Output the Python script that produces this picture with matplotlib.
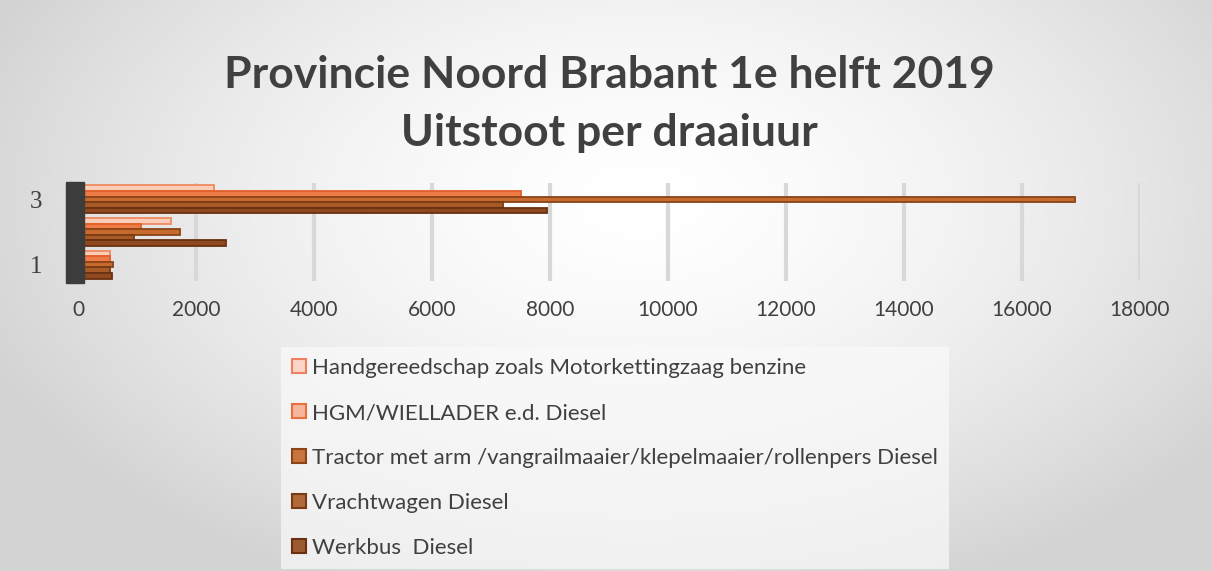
import matplotlib.pyplot as plt
import numpy as np
from matplotlib.patches import Rectangle, Patch

categories = [1, 2, 3]
series = [
    "Handgereedschap zoals Motorkettingzaag benzine",
    "HGM/WIELLADER e.d. Diesel",
    "Tractor met arm /vangrailmaaier/klepelmaaier/rollenpers Diesel",
    "Vrachtwagen Diesel",
    "Werkbus  Diesel",
]
handgereedschap = [550, 1580, 2300]
hgm = [550, 1070, 7500]
tractor = [600, 1730, 16900]
vrachtwagen = [550, 950, 7200]
werkbus = [580, 2500, 7950]
values = [handgereedschap, hgm, tractor, vrachtwagen, werkbus]

fills = ["#F9CDB8", "#EE7A45", "#C76A2E", "#A85A26", "#8E4A1E"]
edges = ["#EE8A60", "#E0602A", "#8A4418", "#7A3A12", "#6A3010"]
leg_fills = ["#FAD5C8", "#F4B79C", "#C8743E", "#B06A3A", "#9C5A30"]
leg_edges = ["#EE8060", "#E8703A", "#8A4418", "#7A3A12", "#6A3010"]

plt.rcParams['font.family'] = ['Lato', 'DejaVu Sans']

fig = plt.figure(figsize=(12.12, 5.71), dpi=100)

# radial gradient background
bg = fig.add_axes([0, 0, 1, 1], zorder=-5)
yy, xx = np.mgrid[0:571, 0:1212]
r = np.sqrt(((xx - 640) / 700.0) ** 2 + ((yy - 200) / 420.0) ** 2)
shade = 1.0 - 0.17 * np.clip(r, 0, 1) ** 1.6
bg.imshow(np.dstack([shade, shade, shade]), aspect='auto', extent=[0, 1, 0, 1])
bg.axis('off')

W, H = 1212.0, 571.0
ax = fig.add_axes([78 / W, 1 - 281 / H, 1062 / W, 98 / H])
ax.set_facecolor('none')

h = 0.17
y = np.array(categories, dtype=float)
for i in range(len(series)):
    ax.barh(y + (2 - i) * h, values[i], height=h, color=fills[i],
            edgecolor=edges[i], linewidth=1.3, zorder=3)

ax.set_xlim(0, 18000)
ax.set_ylim(0.5, 3.5)
ax.set_xticks(np.arange(0, 18001, 2000))
ax.set_yticks([1, 3])
ax.tick_params(axis='both', length=0, colors='#404040')
ax.tick_params(axis='x', pad=14, labelsize=15)
ax.tick_params(axis='y', pad=26, labelsize=18)
for lab in ax.get_yticklabels():
    lab.set_family('Liberation Serif')
ax.grid(axis='x', color='#D8D8D8', linewidth=3, zorder=0)
for s in ax.spines.values():
    s.set_visible(False)

# dark side wall of the 3d plot
fig.patches.append(Rectangle((66 / W, 1 - 283 / H), 18 / W, 101 / H,
                             transform=fig.transFigure, color='#3C3C3C', zorder=4))

fig.text(0.503, 1 - 75 / H, "Provincie Noord Brabant 1e helft 2019",
         ha='center', va='center', fontsize=32, fontweight='bold', color='#404040')
fig.text(0.503, 1 - 133 / H, "Uitstoot per draaiuur",
         ha='center', va='center', fontsize=32, fontweight='bold', color='#404040')

handles = [Patch(facecolor=leg_fills[i], edgecolor=leg_edges[i], linewidth=1.5)
           for i in range(len(series))]
leg = fig.legend(handles, series, loc='upper left',
                 bbox_to_anchor=(270 / W, 1 - 336 / H), fontsize=16,
                 handlelength=0.6, handleheight=0.6, handletextpad=0.3,
                 labelspacing=1.12, frameon=True, fancybox=False,
                 borderpad=0.5, labelcolor='#404040')
leg.get_frame().set_facecolor('#FAFAFA')
leg.get_frame().set_edgecolor('none')
leg.get_frame().set_alpha(0.7)

fig.savefig('out.png', dpi=100)
